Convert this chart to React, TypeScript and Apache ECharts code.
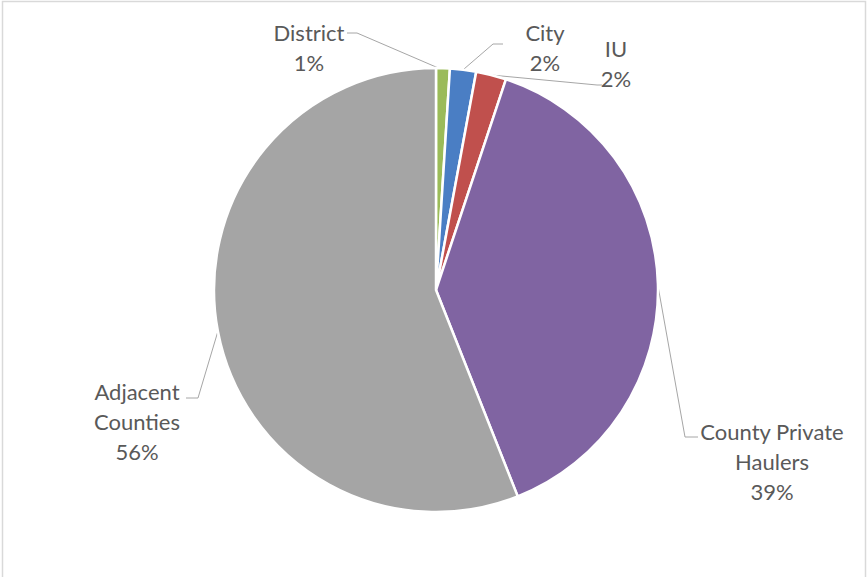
import React, { useEffect, useRef } from "react";
import * as echarts from "echarts";

const categories = ["District", "City", "IU", "County Private Haulers", "Adjacent Counties"];
const values = [1.0, 1.9, 2.2, 38.9, 56.0];
const colors = ["#9BBB59", "#4A7EC4", "#C0504D", "#8064A2", "#A5A5A5"];
const wrappedNames: Record<string, string> = {
  "County Private Haulers": "County Private\nHaulers",
  "Adjacent Counties": "Adjacent\nCounties",
};

// label placement (layout only)
const labelAnchors = [
  { x: 309, y: 47, line: [[443, 70], [357, 33], [347, 33]] },
  { x: 545, y: 47, line: [[464, 69], [493, 44], [503, 44]] },
  { x: 616, y: 63, line: [[491, 75], [597, 85], [602, 85]] },
  { x: 772, y: 461, line: [[658, 286], [685, 437], [698, 437]] },
  { x: 137, y: 421, line: [[218, 331], [198, 398], [186, 398]] },
];

export default function App() {
  const ref = useRef<HTMLDivElement>(null);
  useEffect(() => {
    document.body.style.margin = "0";
    const chart = echarts.init(ref.current!, undefined, { renderer: "svg" });
    chart.setOption({
      animation: false,
      backgroundColor: "#ffffff",
      graphic: [
        {
          type: "rect",
          shape: { x: 2.5, y: 1.5, width: 863, height: 590 },
          style: { fill: "none", stroke: "#D9D9D9", lineWidth: 1.5 },
          silent: true,
        },
      ],
      series: [
        {
          type: "pie",
          center: [436, 290],
          radius: 222,
          startAngle: 90,
          clockwise: true,
          percentPrecision: 0,
          data: categories.map((c, i) => ({
            name: c,
            value: values[i],
            itemStyle: { color: colors[i] },
          })),
          itemStyle: { borderColor: "#ffffff", borderWidth: 2.5 },
          label: {
            show: true,
            fontFamily: "Lato",
            fontSize: 22,
            color: "#595959",
            lineHeight: 30,
            align: "center",
            formatter: (p: any) => `${wrappedNames[p.name] ?? p.name}\n${p.percent}%`,
          },
          labelLine: {
            show: true,
            lineStyle: { color: "#A6A6A6", width: 1 },
          },
          labelLayout: (params: any) => {
            const a = labelAnchors[params.dataIndex];
            return {
              x: a.x,
              y: a.y,
              align: "center",
              verticalAlign: "middle",
              labelLinePoints: a.line,
            };
          },
        },
      ],
    });
    return () => chart.dispose();
  }, []);
  return <div ref={ref} style={{ width: 868, height: 577 }} />;
}
